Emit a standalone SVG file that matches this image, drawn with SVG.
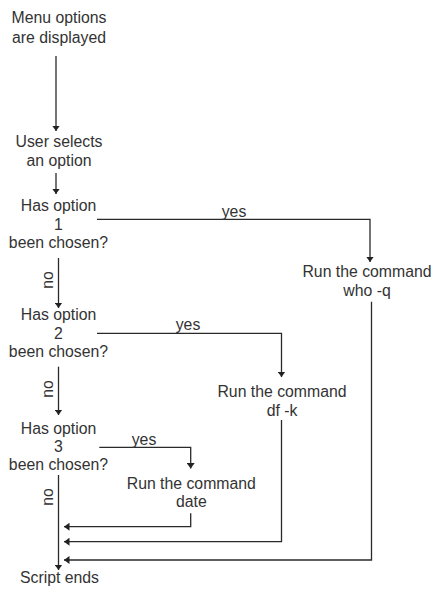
<svg xmlns="http://www.w3.org/2000/svg" width="436" height="589" viewBox="0 0 436 589">
<defs>
<marker id="ah" viewBox="0 0 10 10" refX="10" refY="5" markerWidth="5.5" markerHeight="8" markerUnits="userSpaceOnUse" orient="auto" preserveAspectRatio="none">
<path d="M0,0 L10,5 L0,10 z" fill="#222"/>
</marker>
</defs>
<style>
text{font-family:"Liberation Sans",Arial,sans-serif;font-size:15.8px;fill:#333;text-anchor:middle}
.ln{stroke:#2a2a2a;stroke-width:1.3;fill:none}
.ar{marker-end:url(#ah)}
</style>
<rect width="436" height="589" fill="#fff"/>
<g id="connectors">
<path class="ln ar" d="M56,56 V131"/>
<path class="ln ar" d="M56,173 V194"/>
<path class="ln ar" d="M97,219.3 H370 V262"/>
<path class="ln ar" d="M58.5,258 V308"/>
<path class="ln ar" d="M97,333.3 H281.5 V377"/>
<path class="ln ar" d="M58.5,366.7 V415"/>
<path class="ln ar" d="M99.3,447.3 H190.7 V468.5"/>
<path class="ln ar" d="M58.5,475 V570"/>
<path class="ln ar" d="M190.7,513.3 V526.7 H64"/>
<path class="ln ar" d="M281.5,420 V541.7 H64"/>
<path class="ln ar" d="M371.5,301.7 V560 H64"/>
<text x="234" y="217">yes</text>
<text x="188" y="330">yes</text>
<text x="144" y="444.5">yes</text>
<text transform="translate(52.5,280) rotate(-90)">no</text>
<text transform="translate(53,389) rotate(-90)">no</text>
<text transform="translate(53,497) rotate(-90)">no</text>
</g>
<g id="n1"><text x="59" y="23">Menu options</text><text x="59" y="43">are displayed</text></g>
<g id="n2"><text x="59" y="147">User selects</text><text x="59" y="166">an option</text></g>
<g id="d1"><text x="58.5" y="211">Has option</text><text x="58.5" y="229.5">1</text><text x="58.5" y="248">been chosen?</text></g>
<g id="r1"><text x="367" y="277">Run the command</text><text x="367" y="296">who -q</text></g>
<g id="d2"><text x="58.5" y="320">Has option</text><text x="58.5" y="338.5">2</text><text x="58.5" y="357">been chosen?</text></g>
<g id="r2"><text x="282" y="397">Run the command</text><text x="282" y="415.5">df -k</text></g>
<g id="d3"><text x="58.5" y="433.5">Has option</text><text x="58.5" y="452">3</text><text x="58.5" y="470">been chosen?</text></g>
<g id="r3"><text x="191.3" y="488.5">Run the command</text><text x="191.3" y="507">date</text></g>
<g id="end"><text x="59.5" y="583">Script ends</text></g>
</svg>
